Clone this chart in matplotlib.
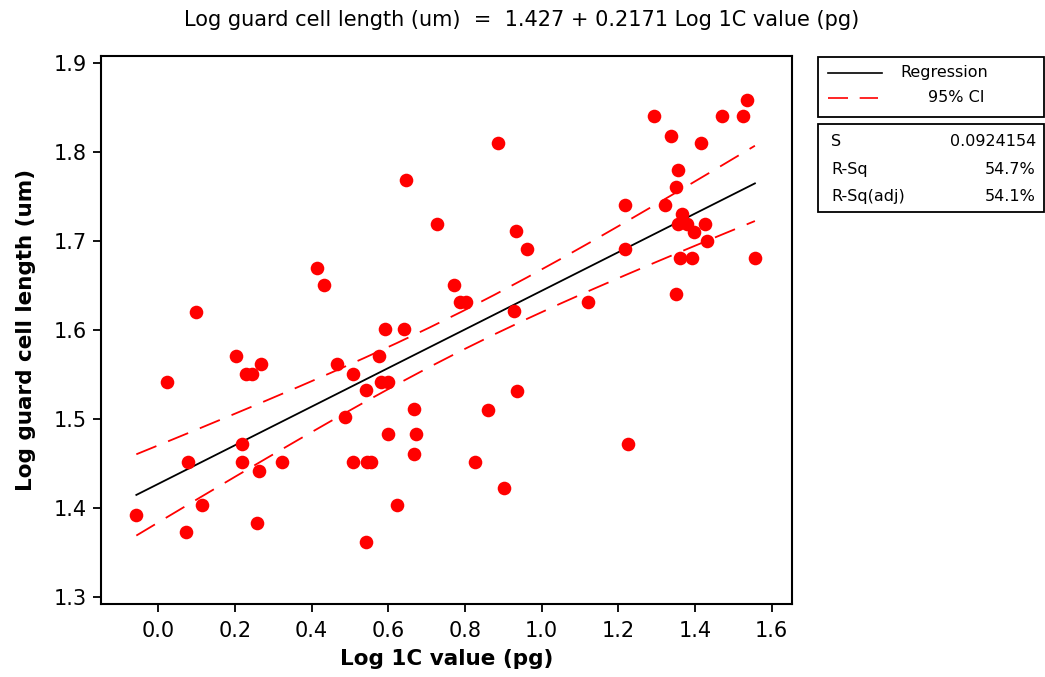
import numpy as np
import matplotlib
matplotlib.use("Agg")
import matplotlib.pyplot as plt
from matplotlib.patches import Rectangle
from matplotlib.lines import Line2D

# Data
log_1c = [
    -0.057, 0.023, 0.077, 0.073, 0.098, 0.113, 0.202, 0.218, 0.218, 0.229,
    0.244, 0.257, 0.263, 0.267, 0.322, 0.413, 0.432, 0.467, 0.488, 0.508,
    0.508, 0.542, 0.542, 0.544, 0.555, 0.577, 0.581, 0.592, 0.598, 0.598,
    0.622, 0.641, 0.647, 0.667, 0.668, 0.673, 0.727, 0.772, 0.787, 0.803,
    0.827, 0.861, 0.887, 0.901, 0.927, 0.932, 0.936, 0.961, 1.122, 1.216,
    1.216, 1.226, 1.292, 1.321, 1.336, 1.350, 1.350, 1.355, 1.355, 1.360,
    1.366, 1.378, 1.391, 1.396, 1.416, 1.426, 1.431, 1.471, 1.525, 1.536,
    1.556,
]
log_guard = [
    1.392, 1.541, 1.452, 1.373, 1.620, 1.403, 1.571, 1.472, 1.452, 1.551,
    1.551, 1.383, 1.442, 1.562, 1.452, 1.670, 1.651, 1.562, 1.502, 1.551,
    1.452, 1.533, 1.362, 1.452, 1.452, 1.571, 1.541, 1.601, 1.541, 1.483,
    1.403, 1.601, 1.769, 1.461, 1.511, 1.483, 1.719, 1.651, 1.631, 1.631,
    1.452, 1.510, 1.810, 1.422, 1.621, 1.711, 1.532, 1.691, 1.631, 1.741,
    1.691, 1.472, 1.840, 1.741, 1.818, 1.640, 1.761, 1.780, 1.719, 1.681,
    1.730, 1.719, 1.681, 1.710, 1.810, 1.719, 1.700, 1.840, 1.840, 1.859,
    1.681,
]
intercept = 1.427
slope = 0.2171
s_value = 0.0924154
stats_rows = [("S", "0.0924154"), ("R-Sq", "54.7%"), ("R-Sq(adj)", "54.1%")]

plt.rcParams["font.family"] = "DejaVu Sans"

x = np.array(log_1c)
y = np.array(log_guard)
n = len(x)

fig = plt.figure(figsize=(10.45, 6.77), dpi=100)
ax = fig.add_axes([0.0967, 0.1078, 0.6613, 0.8095])

# regression line and 95% CI for the mean
xs = np.linspace(x.min(), x.max(), 20)
fit = intercept + slope * xs
sxx = np.sum((x - x.mean()) ** 2)
half = 1.99 * s_value * np.sqrt(1.0 / n + (xs - x.mean()) ** 2 / sxx)

ax.plot(xs, fit, color="black", lw=1.3, zorder=2)
ax.plot(xs, fit + half, color="red", lw=1.3, dashes=(12, 7), zorder=2)
ax.plot(xs, fit - half, color="red", lw=1.3, dashes=(12, 7), zorder=2)
ax.plot(x, y, "o", color="red", markersize=9.8, markeredgewidth=0, zorder=3)

ax.set_xlim(-0.149, 1.653)
ax.set_ylim(1.292, 1.908)
xt = np.arange(0, 1.61, 0.2)
yt = np.arange(1.3, 1.91, 0.1)
ax.set_xticks(xt)
ax.set_yticks(yt)
ax.set_xticklabels([f"{v:.1f}" for v in xt])
ax.set_yticklabels([f"{v:.1f}" for v in yt])
ax.tick_params(direction="out", length=6, width=1.3, labelsize=15, color="black", pad=4)
ax.tick_params(axis="x", pad=6)
for sp in ax.spines.values():
    sp.set_linewidth(1.5)

ax.set_xlabel("Log 1C value (pg)", fontsize=15.5, fontweight="bold", labelpad=6)
ax.set_ylabel("Log guard cell length (um)", fontsize=15.5, fontweight="bold", labelpad=13)

fig.text(522 / 1045, 1 - 20 / 677,
         "Log guard cell length (um)  =  1.427 + 0.2171 Log 1C value (pg)",
         ha="center", va="center", fontsize=15)

# legend box
W, H = 1045.0, 677.0
def fx(px):
    return px / W
def fy(py):
    return 1 - py / H

fig.patches.append(Rectangle((fx(818), fy(117)), fx(1044) - fx(818), (117 - 57) / H,
                             transform=fig.transFigure, fill=False, lw=1.3, ec="black"))
fig.lines.append(Line2D([fx(828), fx(882)], [fy(73), fy(73)], transform=fig.transFigure,
                        color="black", lw=1.2))
fig.lines.append(Line2D([fx(828), fx(878)], [fy(98), fy(98)], transform=fig.transFigure,
                        color="red", lw=1.2, dashes=(12, 7)))
fig.text(fx(900), fy(73), "Regression", ha="left", va="center", fontsize=11.5)
fig.text(fx(928), fy(98), "95% CI", ha="left", va="center", fontsize=11.5)

# stats box
fig.patches.append(Rectangle((fx(818), fy(212)), fx(1044) - fx(818), (212 - 124) / H,
                             transform=fig.transFigure, fill=False, lw=1.3, ec="black"))
for i, (name, val) in enumerate(stats_rows):
    yy = fy(142 + i * 27.5)
    fig.text(fx(831), yy, name, ha="left", va="center", fontsize=11.5)
    fig.text(fx(1036), yy, val, ha="right", va="center", fontsize=11.5)

fig.savefig("out.png", dpi=100)
